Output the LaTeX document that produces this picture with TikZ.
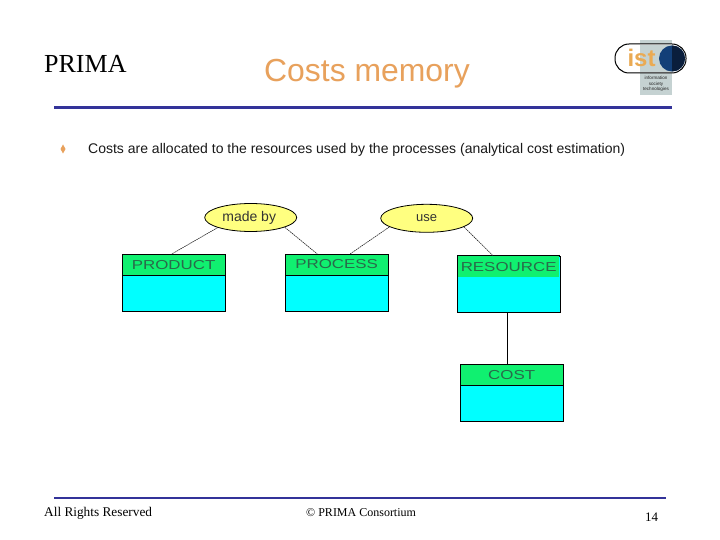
\documentclass[tikz,border=0pt]{standalone}
\usepackage{fontspec}
\setmainfont{Liberation Sans}
\newfontfamily\seriffont{Liberation Serif}
\newfontfamily\spacedfont[FakeStretch=1.3]{Liberation Sans}
\usetikzlibrary{shapes.geometric}
\definecolor{rulec}{HTML}{333399}
\definecolor{titlec}{HTML}{E8A15C}
\definecolor{headc}{HTML}{10F070}
\definecolor{bodyc}{HTML}{00FFFF}
\definecolor{ellc}{HTML}{FFFF80}
\definecolor{logog}{HTML}{C5D2D2}
\definecolor{globec}{HTML}{123F78}
\definecolor{globed}{HTML}{0A1E3C}
\definecolor{labc}{HTML}{2A6A4A}
\tikzset{
  head/.style={draw=black,fill=headc,line width=0.8pt,minimum width=102.5pt,anchor=north west,inner sep=0pt,text=labc,font=\spacedfont\fontsize{13}{13}\selectfont},
  bodyb/.style={draw=black,fill=bodyc,line width=0.8pt,minimum width=102.5pt,anchor=north west,inner sep=0pt},
  rel/.style={draw=black,fill=ellc,ellipse,line width=0.8pt,minimum width=92pt,minimum height=28pt,inner sep=0pt,font=\fontsize{14}{14}\selectfont,text=black!80},
  conn/.style={draw=black!85,line width=0.6pt,dash pattern=on 1.6pt off 0.7pt},
  slide/.style={line width=#1,draw=rulec},
  foot/.style={font=\seriffont\fontsize{12}{12}\selectfont,anchor=base west,inner sep=0pt}
}
\begin{document}
\begin{tikzpicture}[x=1pt,y=-1pt]
\useasboundingbox (0,0) rectangle (720,540);
\fill[white] (0,0) rectangle (720,540);
% header
\node[anchor=base west,inner sep=0pt,font=\seriffont\fontsize{26}{26}\selectfont] (brand) at (44,73) {PRIMA};
\node[anchor=base west,inner sep=0pt,text=titlec,font=\fontsize{31.9}{32}\selectfont] (title) at (264,82) {Costs memory};
% logo
\fill[logog] (640,40) rectangle (672,95);
\draw[black,line width=1pt,fill=white,rounded corners=14pt] (615,44) rectangle (686,73);
\fill[logog] (640,45) rectangle (672,72);
\node[inner sep=0pt,text=titlec!90!yellow,font=\bfseries\fontsize{24}{24}\selectfont] (ist) at (641.5,58) {ist};
\fill[globec] (672,58.5) circle (13);
\fill[globed] (672,45.5) arc[start angle=-90,end angle=90,radius=13] -- cycle;
\node[inner sep=0pt,align=center,text=black!85,font=\fontsize{4.6}{5.6}\selectfont] (logotext) at (656,84) {information\\society\\technologies};
% rules
\draw[slide=3pt] (54,108) -- (672,108);
\draw[slide=2pt] (54,498) -- (666,498);
% bullet line
\fill[titlec] (63,144.5) -- (65.5,149) -- (63,153.5) -- (60.5,149) -- cycle;
\node[anchor=base west,inner sep=0pt,font=\fontsize{14}{14}\selectfont,text=black!90] (body) at (88,153.5) {Costs are allocated to the resources used by the processes (analytical cost estimation)};
% relations
\node[rel] (madeby) at (250.7,217.5) {\hspace*{-3pt}made by};
\node[rel] (use) at (426.7,218.3) {\fontsize{13}{13}\selectfont use};
% entities
\node[bodyb,minimum height=56.5pt] (productb) at (122,254) {};
\node[head,minimum height=21pt] (product) at (122,254) {PRODUCT};
\node[bodyb,minimum height=56.5pt] (processb) at (285,254) {};
\node[head,minimum height=21pt] (process) at (285,254) {\raisebox{1.5pt}{PROCESS}};
\node[bodyb,minimum height=56.5pt] (resourceb) at (457,255.5) {};
\node[head,draw=none,minimum height=20.5pt,minimum width=101.5pt] (resource) at (457.5,256) {RESOURCE};
\draw[black,line width=0.8pt] (resourceb.north west) -- (resourceb.north east);
\node[bodyb,minimum height=56.5pt] (costb) at (460,364) {};
\node[head,minimum height=21pt] (cost) at (460,364) {COST};
% connectors
\draw[conn] (madeby.-163) -- (product.north -| 171.7,0);
\draw[conn] (madeby.-16) -- (process.north -| 317.3,0);
\draw[conn] (use.-167) -- (process.north -| 350,0);
\draw[conn] (use.-13) -- (resource.north -| 493.3,0);
\draw[black,line width=0.8pt] (resourceb.south -| 507.5,0) -- (cost.north -| 507.5,0);
% footer
\node[foot,font=\seriffont\fontsize{13.3}{13.3}\selectfont] (rights) at (44,516) {All Rights Reserved};
\node[foot] (copy) at (306,516) {© PRIMA Consortium};
\node[foot,font=\seriffont\fontsize{13}{13}\selectfont] (page) at (645,521) {14};
\end{tikzpicture}
\end{document}
